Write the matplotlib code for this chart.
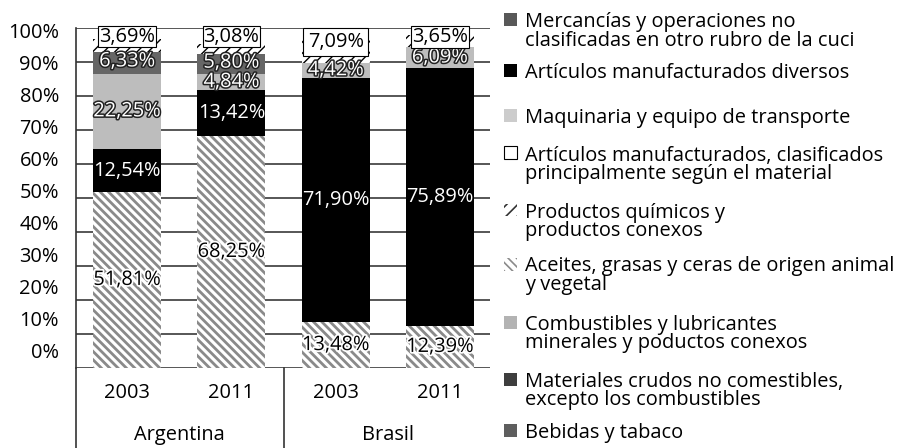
import matplotlib
matplotlib.use("Agg")
import matplotlib.pyplot as plt
import matplotlib.patheffects as pe
from matplotlib.patches import Rectangle
from matplotlib.lines import Line2D

plt.rcParams['font.family'] = ['Open Sans', 'DejaVu Sans']

# data (percent of total)
countries = ['Argentina', 'Brasil']
years = ['2003', '2011', '2003', '2011']
aceites = [51.81, 68.25, 13.48, 12.39]
diversos = [12.54, 13.42, 71.90, 75.89]
maquinaria = [22.25, 4.84, 4.42, 6.09]
mercancias = [6.33, 5.80, 0.0, 0.0]
quimicos = [3.69, 3.08, 7.09, 3.65]

legend_labels = [
    'Mercancías y operaciones no\nclasificadas en otro rubro de la cuci',
    'Artículos manufacturados diversos',
    'Maquinaria y equipo de transporte',
    'Artículos manufacturados, clasificados\nprincipalmente según el material',
    'Productos químicos y\nproductos conexos',
    'Aceites, grasas y ceras de origen animal\ny vegetal',
    'Combustibles y lubricantes\nminerales y poductos conexos',
    'Materiales crudos no comestibles,\nexcepto los combustibles',
    'Bebidas y tabaco',
]

W, H = 920, 448
fig = plt.figure(figsize=(W / 100, H / 100), dpi=100)


def fx(x):
    return x / W


def fy(y):
    return 1 - y / H


ax = fig.add_axes([fx(76), fy(368), fx(490) - fx(76), fy(28) - fy(368)])
x = list(range(len(years)))
width = 0.65
FS = 14.4

# gridlines
for v in range(0, 101, 10):
    ax.axhline(v, color='#3a3a3a', lw=1.2, zorder=0)

bottom = [0.0] * 4


def stack(vals, **kw):
    global bottom
    bars = ax.bar(x, vals, width, bottom=bottom, zorder=2, **kw)
    prev = bottom[:]
    bottom = [b + v for b, v in zip(bottom, vals)]
    return bars, prev


with plt.rc_context({'hatch.linewidth': 2.0}):
    _, b_ace = stack(aceites, color='white', edgecolor='#8a8a8a', hatch='\\\\\\\\', linewidth=0)
_, b_div = stack(diversos, color='black', linewidth=0)
_, b_maq = stack(maquinaria, color='#bdbdbd', linewidth=0)
_, b_mer = stack(mercancias, color='#666666', linewidth=0)
with plt.rc_context({'hatch.linewidth': 1.0}):
    _, b_qui = stack(quimicos, color='white', edgecolor='black', hatch='///', linewidth=0)


def fmt(v):
    return f'{v:.2f}%'.replace('.', ',')


outline_white = [pe.withStroke(linewidth=2.2, foreground='#222222')]
halo = [pe.withStroke(linewidth=2.5, foreground='white')]

box_y = [97.5, 97.5, 95.9, 97.4]
box_pad = [0.04, 0.04, 0.22, 0.04]
for i in x:
    ax.text(i, b_ace[i] + aceites[i] / 2, fmt(aceites[i]), ha='center', va='center',
            fontsize=FS, color='black', path_effects=halo, zorder=5)
    ax.text(i, b_div[i] + diversos[i] / 2, fmt(diversos[i]), ha='center', va='center',
            fontsize=FS, color='white', zorder=5)
    ax.text(i, b_maq[i] + maquinaria[i] / 2, fmt(maquinaria[i]), ha='center', va='center',
            fontsize=FS, color='white', path_effects=outline_white, zorder=5)
    if mercancias[i] > 0:
        ax.text(i, b_mer[i] + mercancias[i] / 2 + 0.4, fmt(mercancias[i]), ha='center', va='center',
                fontsize=FS, color='white', path_effects=outline_white, zorder=5)
    ax.text(i, box_y[i], fmt(quimicos[i]), ha='center', va='center', fontsize=FS, color='black',
            zorder=6, bbox=dict(boxstyle=f'square,pad={box_pad[i]}', fc='white', ec='black', lw=0.8))

ax.set_xlim(-0.49, 3.48)
ax.set_ylim(0, 100)
ax.set_xticks([])
ax.set_yticks([])
for s in ['top', 'right', 'bottom']:
    ax.spines[s].set_visible(False)
ax.spines['left'].set_color('#333333')
ax.spines['left'].set_linewidth(1.2)

# y labels (offset as in the original)
for v in range(0, 101, 10):
    fig.text(fx(59), fy(353 - 3.2 * v), f'{v}%', ha='right', va='center', fontsize=FS)

# category area below the axis
fig.add_artist(Line2D([fx(76), fx(76)], [fy(368), fy(448)], color='#333333', lw=1.2))
fig.add_artist(Line2D([fx(284), fx(284)], [fy(368), fy(448)], color='#333333', lw=1.2))
for i, yr in enumerate(years):
    ax.text(i, -7.3, yr, ha='center', va='center', fontsize=FS, clip_on=False)
for j, c in enumerate(countries):
    ax.text(2 * j + 0.5, -19.8, c, ha='center', va='center', fontsize=FS, clip_on=False)

# legend
icon_y = [20, 71, 115, 153, 210, 264, 322, 379, 430]
icons = [
    dict(fc='#585858', ec='none'),
    dict(fc='black', ec='none'),
    dict(fc='#cccccc', ec='none'),
    dict(fc='white', ec='black', lw=0.8),
    dict(fc='white', ec='#333333', hatch='///', lw=0),
    dict(fc='white', ec='#8a8a8a', hatch='\\\\\\\\', lw=0),
    dict(fc='#b3b3b3', ec='none'),
    dict(fc='#3e3e3e', ec='none'),
    dict(fc='#5e5e5e', ec='none'),
]
for lab, yc, st in zip(legend_labels, icon_y, icons):
    with plt.rc_context({'hatch.linewidth': 1.2}):
        fig.add_artist(Rectangle((fx(504), fy(yc + 6.5)), 13 / W, 13 / H,
                                 transform=fig.transFigure, **st))
    for k, line in enumerate(lab.split('\n')):
        fig.text(fx(525), fy(yc + k * 18.5), line, ha='left', va='center_baseline', fontsize=FS)

fig.savefig('out.png', dpi=100)
